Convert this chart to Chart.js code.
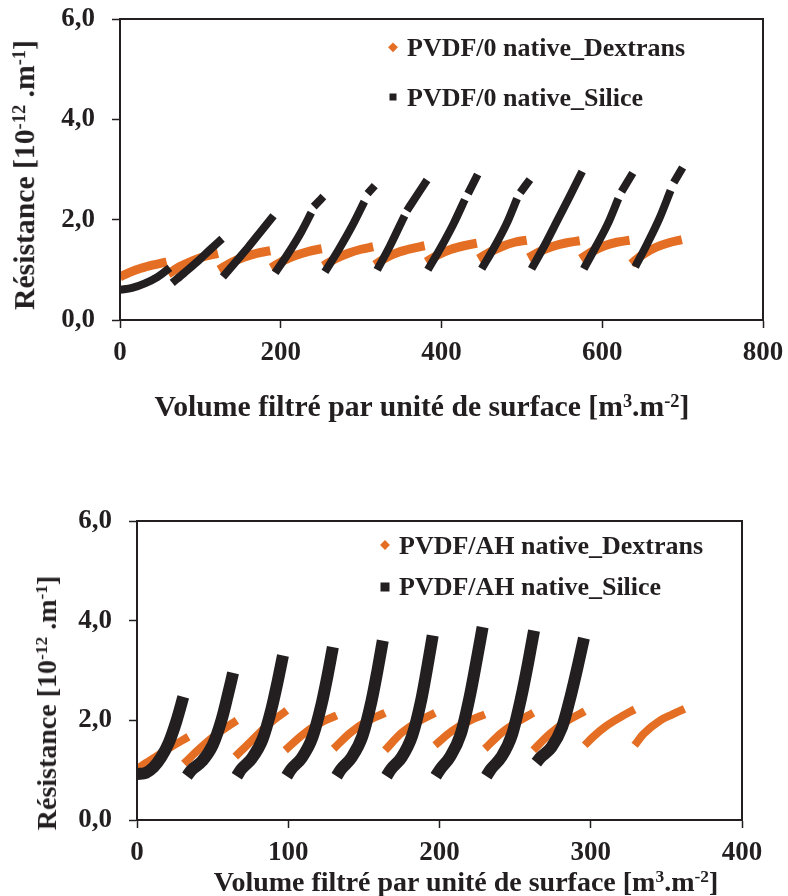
<!DOCTYPE html>
<html>
<head>
<meta charset="utf-8">
<script src="https://cdn.jsdelivr.net/npm/chart.js@4.4.1/dist/chart.umd.min.js"></script>
<style>
  html, body { margin: 0; padding: 0; background: #fff; }
  #wrap { position: relative; width: 788px; height: 896px; overflow: hidden; background: #fff;
          font-family: "Liberation Serif", "Times New Roman", serif; font-weight: bold; color: #231F20; }
  canvas { position: absolute; left: 0; }
  .t { position: absolute; white-space: nowrap; line-height: 1; transform-origin: center center; }
  .t sup { font-size: 0.62em; vertical-align: baseline; position: relative; top: -0.5em; }
  .leg { position: absolute; white-space: nowrap; line-height: 1; font-size: 26px; transform: translateY(-50%); }
  .dia { position: absolute; background: #E46F24; transform: translate(-50%,-50%) rotate(45deg); }
  .sq { position: absolute; background: #231F20; transform: translate(-50%,-50%); }
</style>
</head>
<body>
<div id="wrap">
  <canvas id="c1" width="788" height="448" style="top:0;width:788px;height:448px"></canvas>
  <canvas id="c2" width="788" height="448" style="top:448px;width:788px;height:448px"></canvas>

  <div class="t" style="font-size:29.7px;left:25px;top:175px;transform:translate(-50%,-50%) rotate(-90deg)">Résistance [10<sup>-12</sup> .m<sup>-1</sup>]</div>
  <div class="t" style="font-size:29.7px;left:422px;top:407px;transform:translate(-50%,-50%)">Volume filtré par unité de surface [m<sup>3</sup>.m<sup>-2</sup>]</div>
  <span class="dia" style="left:393px;top:47px;width:6.5px;height:6.5px"></span>
  <div class="leg" style="left:407px;top:48px">PVDF/0 native_Dextrans</div>
  <span class="sq" style="left:393px;top:97px;width:7px;height:7px"></span>
  <div class="leg" style="left:407px;top:98px">PVDF/0 native_Silice</div>

  <div class="t" style="font-size:28px;left:47px;top:703px;transform:translate(-50%,-50%) rotate(-90deg)">Résistance [10<sup>-12</sup> .m<sup>-1</sup>]</div>
  <div class="t" style="font-size:28px;left:466px;top:882px;transform:translate(-50%,-50%)">Volume filtré par unité de surface [m<sup>3</sup>.m<sup>-2</sup>]</div>
  <span class="dia" style="left:385px;top:545px;width:7px;height:7px"></span>
  <div class="leg" style="left:399px;top:546px">PVDF/AH native_Dextrans</div>
  <span class="sq" style="left:385px;top:587px;width:9px;height:9px"></span>
  <div class="leg" style="left:399px;top:587px">PVDF/AH native_Silice</div>
</div>

<script>
// ---------------- DATA ----------------
// Top chart: PVDF/0 native
const topLabels = ['PVDF/0 native_Dextrans', 'PVDF/0 native_Silice'];
const topXTicks = [0, 200, 400, 600, 800];
const yTickValues = [0, 2, 4, 6];
const yTickLabels = ['0,0', '2,0', '4,0', '6,0'];

// Dextrans (orange) – filtration cycles, volume [m3/m2]
const topDextransX = [
  [0, 12, 26, 42, 58],
  [60, 74, 90, 106, 122],
  [123, 138, 154, 170, 187],
  [188, 203, 219, 235, 251],
  [253, 268, 284, 300, 315],
  [317, 332, 348, 364, 379],
  [381, 396, 412, 428, 444],
  [446, 461, 476, 491, 506],
  [508, 523, 539, 556, 572],
  [573, 588, 603, 618, 634],
  [636, 651, 667, 683, 699]
];
const topDextransY = [
  [0.86, 0.95, 1.03, 1.10, 1.16],
  [0.92, 1.06, 1.18, 1.27, 1.33],
  [1.00, 1.14, 1.25, 1.33, 1.38],
  [1.04, 1.18, 1.29, 1.37, 1.42],
  [1.08, 1.22, 1.33, 1.41, 1.46],
  [1.10, 1.25, 1.36, 1.43, 1.48],
  [1.16, 1.30, 1.41, 1.48, 1.53],
  [1.22, 1.36, 1.47, 1.55, 1.59],
  [1.24, 1.37, 1.47, 1.54, 1.58],
  [1.22, 1.37, 1.48, 1.55, 1.59],
  [1.12, 1.31, 1.45, 1.54, 1.60]
];
// Silice (black)
const topSiliceX = [
  [0, 15, 31, 47, 62],
  [65, 80, 96, 112, 127],
  [128, 144, 160, 176, 191],
  [193, 209, 225, 238], [241, 253],
  [255, 272, 289, 304], [308, 317],
  [320, 336, 354], [357, 370, 382],
  [383, 399, 415, 429], [433, 445],
  [450, 466, 481, 494], [498, 510],
  [512, 528, 544, 560, 575],
  [577, 592, 607, 620], [624, 638],
  [641, 656, 671, 685], [689, 700]
];
const topSiliceY = [
  [0.60, 0.64, 0.73, 0.86, 1.04],
  [0.74, 0.94, 1.16, 1.40, 1.62],
  [0.86, 1.16, 1.46, 1.78, 2.08],
  [0.94, 1.32, 1.74, 2.14], [2.26, 2.46],
  [0.96, 1.40, 1.88, 2.36], [2.52, 2.68],
  [1.00, 1.48, 2.08], [2.18, 2.50, 2.79],
  [1.00, 1.44, 1.92, 2.40], [2.52, 2.90],
  [1.02, 1.46, 1.92, 2.42], [2.54, 2.80],
  [1.02, 1.48, 1.98, 2.48, 2.96],
  [1.02, 1.46, 1.92, 2.42], [2.56, 2.93],
  [1.06, 1.52, 2.02, 2.58], [2.74, 3.04]
];

// Bottom chart: PVDF/AH native
const botLabels = ['PVDF/AH native_Dextrans', 'PVDF/AH native_Silice'];
const botXTicks = [0, 100, 200, 300, 400];
const botDextransX = [
  [0, 10, 20, 34],
  [31, 42, 54, 66],
  [65, 76, 87, 99],
  [98, 109, 120, 132],
  [130, 141, 152, 164],
  [164, 175, 186, 197],
  [197, 208, 219, 230],
  [230, 241, 252, 262],
  [262, 273, 284, 296],
  [296, 302, 310, 320, 329],
  [329, 335, 346, 354, 362]
];
const botDextransY = [
  [1.03, 1.22, 1.42, 1.67],
  [1.13, 1.45, 1.75, 2.00],
  [1.27, 1.60, 1.92, 2.20],
  [1.40, 1.70, 1.93, 2.10],
  [1.43, 1.75, 1.98, 2.15],
  [1.40, 1.75, 1.98, 2.15],
  [1.50, 1.78, 1.98, 2.12],
  [1.43, 1.75, 1.98, 2.15],
  [1.40, 1.73, 1.98, 2.18],
  [1.50, 1.68, 1.88, 2.07, 2.22],
  [1.50, 1.73, 2.00, 2.12, 2.23]
];
const botSiliceX = [
  [0, 6, 11, 16, 21, 26, 30.6],
  [33, 36, 43, 50, 56, 60, 63.5],
  [66, 69, 76, 83, 89, 93, 96.5],
  [99, 102, 109, 116, 122, 126, 129.5],
  [132, 135, 142, 149, 155, 159, 162.5],
  [165, 168, 175, 182, 188, 192, 195.5],
  [197.5, 200.5, 207, 214, 220, 224.5, 228.5],
  [231, 234, 241, 248, 254, 258.5, 262.5],
  [264, 267, 274, 281, 287, 291.5, 295.5]
];
const botSiliceY = [
  [0.92, 0.95, 1.06, 1.26, 1.55, 1.98, 2.47],
  [0.88, 1.00, 1.18, 1.50, 2.02, 2.50, 2.95],
  [0.88, 1.02, 1.24, 1.62, 2.24, 2.78, 3.30],
  [0.88, 1.02, 1.25, 1.66, 2.32, 2.90, 3.47],
  [0.88, 1.02, 1.26, 1.68, 2.38, 3.00, 3.60],
  [0.88, 1.02, 1.26, 1.70, 2.42, 3.08, 3.70],
  [0.88, 1.02, 1.27, 1.72, 2.48, 3.20, 3.87],
  [0.88, 1.02, 1.27, 1.72, 2.46, 3.14, 3.80],
  [1.15, 1.26, 1.46, 1.86, 2.52, 3.10, 3.65]
];

// ---------------- BUILD ----------------
const ORANGE = '#E46F24';
const BLACK = '#231F20';
const FONT = "'Liberation Serif', 'Times New Roman', serif";

function toPoints(xs, ys) {
  const out = [];
  xs.forEach((seg, i) => {
    seg.forEach((x, j) => out.push({ x: x, y: ys[i][j] }));
    out.push({ x: seg[seg.length - 1], y: null });
  });
  return out;
}

const frame = {
  id: 'frame',
  afterDraw(chart) {
    const a = chart.chartArea, ctx = chart.ctx;
    ctx.save();
    ctx.strokeStyle = BLACK;
    ctx.lineWidth = 2;
    ctx.strokeRect(a.left, a.top, a.right - a.left, a.bottom - a.top);
    ctx.restore();
  }
};

function noPad(s) { s.paddingTop = 0; s.paddingBottom = 0; s.paddingLeft = 0; s.paddingRight = 0; }

function makeChart(id, cfg) {
  const ds = [
    { label: cfg.labels[0], data: toPoints(cfg.dx, cfg.dy), borderColor: ORANGE, backgroundColor: ORANGE,
      borderWidth: cfg.ow, pointRadius: 0, spanGaps: false, cubicInterpolationMode: 'monotone', order: 1,
      borderCapStyle: 'butt' },
    { label: cfg.labels[1], data: toPoints(cfg.sx, cfg.sy), borderColor: BLACK, backgroundColor: BLACK,
      borderWidth: cfg.bw, pointRadius: 0, spanGaps: false, cubicInterpolationMode: 'monotone', order: 0,
      borderCapStyle: 'butt' }
  ];
  const tickFont = { family: FONT, size: 27, weight: 'bold' };
  return new Chart(document.getElementById(id), {
    type: 'line',
    data: { datasets: ds },
    plugins: [frame],
    options: {
      responsive: false, animation: false, devicePixelRatio: 1,
      layout: { padding: cfg.pad },
      plugins: { legend: { display: false }, tooltip: { enabled: false } },
      scales: {
        x: {
          type: 'linear', min: cfg.xTicks[0], max: cfg.xTicks[cfg.xTicks.length - 1],
          afterBuildTicks: (s) => { s.ticks = cfg.xTicks.map(v => ({ value: v })); },
          afterFit: (s) => { s.height = cfg.xh; noPad(s); },
          grid: { display: true, drawOnChartArea: false, drawTicks: true, tickLength: 8, tickColor: BLACK, tickWidth: 1.5 },
          border: { display: true, color: BLACK, width: 2 },
          ticks: { color: BLACK, font: tickFont, padding: 9, maxRotation: 0, callback: (v) => String(v) }
        },
        y: {
          type: 'linear', min: 0, max: 6,
          afterBuildTicks: (s) => { s.ticks = yTickValues.map(v => ({ value: v })); },
          afterFit: (s) => { s.width = cfg.yw; noPad(s); },
          grid: { display: true, drawOnChartArea: false, drawTicks: true, tickLength: 8, tickColor: BLACK, tickWidth: 1.5 },
          border: { display: true, color: BLACK, width: 2 },
          ticks: { color: BLACK, font: tickFont, padding: 17, callback: (v) => yTickLabels[yTickValues.indexOf(v)] }
        }
      }
    }
  });
}

makeChart('c1', {
  labels: topLabels, xTicks: topXTicks,
  dx: topDextransX, dy: topDextransY, sx: topSiliceX, sy: topSiliceY,
  ow: 9, bw: 8, yw: 120, xh: 128,
  pad: { left: 0, top: 19, right: 25, bottom: 0 }
});
makeChart('c2', {
  labels: botLabels, xTicks: botXTicks,
  dx: botDextransX, dy: botDextransY, sx: botSiliceX, sy: botSiliceY,
  ow: 8, bw: 12, yw: 137, xh: 76,
  pad: { left: 0, top: 73, right: 46, bottom: 0 }
});
</script>
</body>
</html>
